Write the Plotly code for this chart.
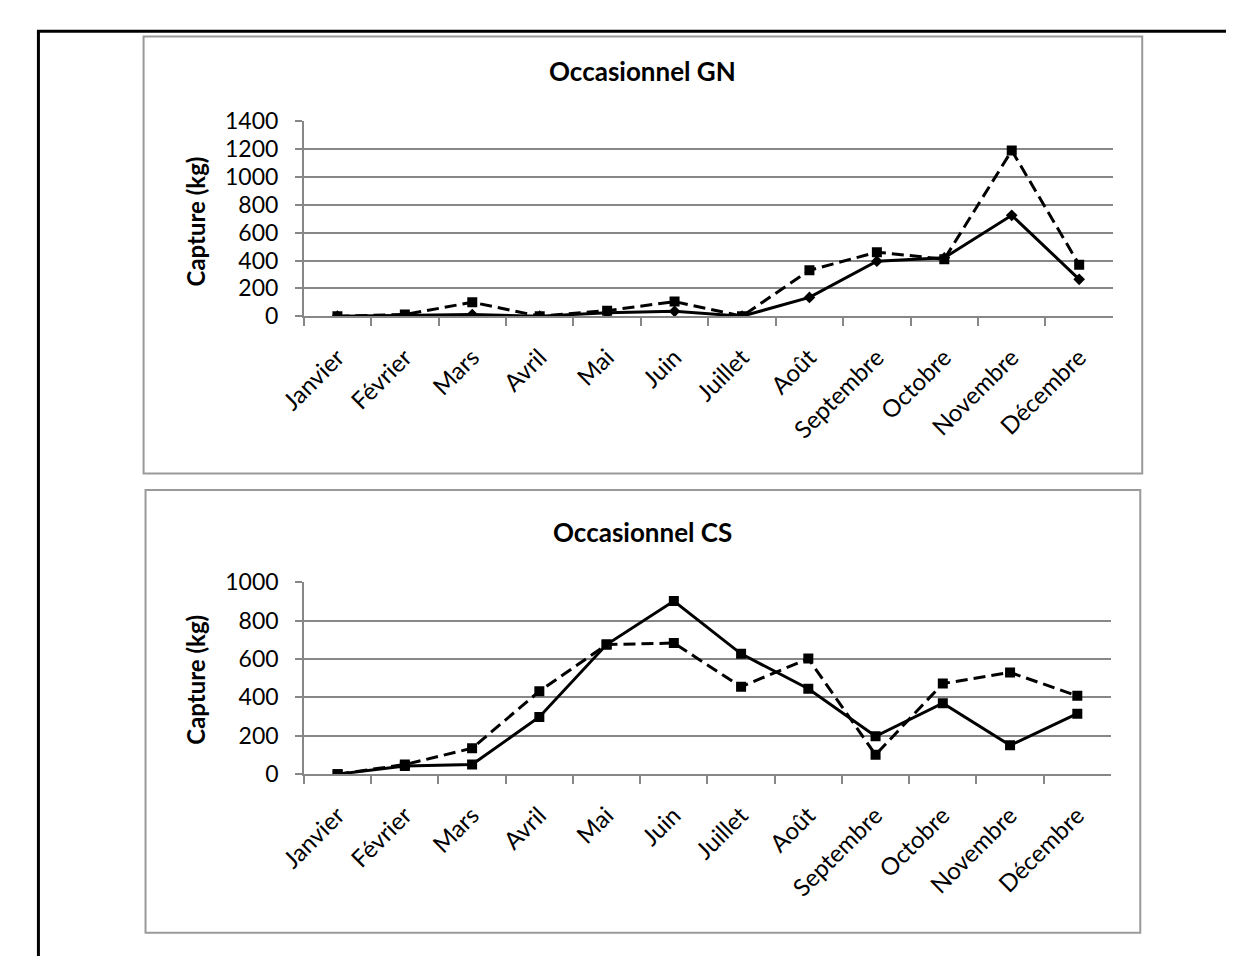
import plotly.graph_objects as go

# Monthly catches (kg)
months = ['Janvier', 'Février', 'Mars', 'Avril', 'Mai', 'Juin', 'Juillet',
          'Août', 'Septembre', 'Octobre', 'Novembre', 'Décembre']

gn_solid = [0, 5, 12, 0, 25, 35, 0, 135, 395, 420, 725, 265]
gn_dashed = [0, 12, 100, 0, 40, 105, 0, 330, 460, 410, 1190, 370]

cs_solid = [0, 42, 50, 298, 675, 902, 627, 445, 197, 370, 150, 315]
cs_dashed = [0, 50, 135, 432, 675, 683, 455, 602, 101, 472, 530, 408]

gn_ticks = [0, 200, 400, 600, 800, 1000, 1200, 1400]
cs_ticks = [0, 200, 400, 600, 800, 1000]

W, H = 1234, 961
OFF = 8  # the page body adds an 8px margin around the figure
FONT = 'Lato'
GRID = '#878787'


def px(x):
    return (x - OFF) / W


def py(y):
    return 1 - (y - OFF) / H


fig = go.Figure()

# top chart: solid with diamonds, dashed with squares
fig.add_trace(go.Scatter(
    x=months, y=gn_solid, name='Série 1', mode='lines+markers',
    line=dict(color='black', width=3),
    marker=dict(symbol='diamond', size=9, color='black'),
    xaxis='x', yaxis='y'
))
fig.add_trace(go.Scatter(
    x=months, y=gn_dashed, name='Série 2', mode='lines+markers',
    line=dict(color='black', width=3, dash='12px,6px'),
    marker=dict(symbol='square', size=10, color='black'),
    xaxis='x', yaxis='y'
))

# bottom chart: both with squares
fig.add_trace(go.Scatter(
    x=months, y=cs_solid, name='Série 1', mode='lines+markers',
    line=dict(color='black', width=3),
    marker=dict(symbol='square', size=10, color='black'),
    xaxis='x2', yaxis='y2'
))
fig.add_trace(go.Scatter(
    x=months, y=cs_dashed, name='Série 2', mode='lines+markers',
    line=dict(color='black', width=3, dash='12px,6px'),
    marker=dict(symbol='square', size=10, color='black'),
    xaxis='x2', yaxis='y2'
))

xaxis_style = dict(
    type='category', range=[-0.5, 11.5],
    showline=True, linecolor=GRID, linewidth=1.5,
    ticks='outside', tickson='boundaries', ticklen=8, tickcolor=GRID,
    tickwidth=1.5, tickangle=-45, ticklabelstandoff=16,
    showgrid=False, zeroline=False,
    tickfont=dict(family=FONT, size=24, color='black'),
)
yaxis_style = dict(
    showline=True, linecolor=GRID, linewidth=1.5,
    ticks='outside', ticklen=7, tickcolor=GRID, tickwidth=1.5,
    ticklabelstandoff=12,
    showgrid=True, gridcolor=GRID, gridwidth=1.5, zeroline=False,
    tickfont=dict(family=FONT, size=23, color='black'),
)

fig.update_layout(
    width=W, height=H, autosize=False,
    margin=dict(l=0, r=0, t=0, b=0),
    paper_bgcolor='white', plot_bgcolor='white',
    showlegend=False,
    xaxis=dict(xaxis_style, domain=[px(282.7), px(1110)], anchor='y'),
    yaxis=dict(yaxis_style, domain=[py(310), py(109.3)], anchor='x',
               range=[0, 1400], tickvals=gn_ticks),
    xaxis2=dict(xaxis_style, domain=[px(283), px(1108)], anchor='y2'),
    yaxis2=dict(yaxis_style, domain=[py(781.7), py(584)], anchor='x2',
                range=[0, 1000], tickvals=cs_ticks),
)

# chart frames and page border
shapes = [
    dict(type='rect', xref='paper', yref='paper',
         x0=px(119), x1=px(1140), y0=py(472), y1=py(22),
         line=dict(color='#9a9a9a', width=2), layer='below'),
    dict(type='rect', xref='paper', yref='paper',
         x0=px(121), x1=px(1138), y0=py(945), y1=py(489),
         line=dict(color='#9a9a9a', width=2), layer='below'),
    dict(type='line', xref='paper', yref='paper',
         x0=px(11.5), x1=px(11.5), y0=0, y1=py(16.5),
         line=dict(color='black', width=3)),
    dict(type='line', xref='paper', yref='paper',
         x0=px(10), x1=1, y0=py(16.5), y1=py(16.5),
         line=dict(color='black', width=3)),
]
fig.update_layout(shapes=shapes)

annotations = [
    dict(text='<b>Occasionnel GN</b>', x=px(629), y=py(57)),
    dict(text='<b>Occasionnel CS</b>', x=px(629), y=py(532)),
    dict(text='<b>Capture (kg)</b>', x=px(172), y=py(212), textangle=-90),
    dict(text='<b>Capture (kg)</b>', x=px(172), y=py(684), textangle=-90),
]
for a in annotations:
    a.update(xref='paper', yref='paper', showarrow=False,
             xanchor='center', yanchor='middle',
             font=dict(family=FONT, size=26 if 'Occasionnel' in a['text'] else 24,
                       color='black'))
fig.update_layout(annotations=annotations)

fig.write_html("out.html")
